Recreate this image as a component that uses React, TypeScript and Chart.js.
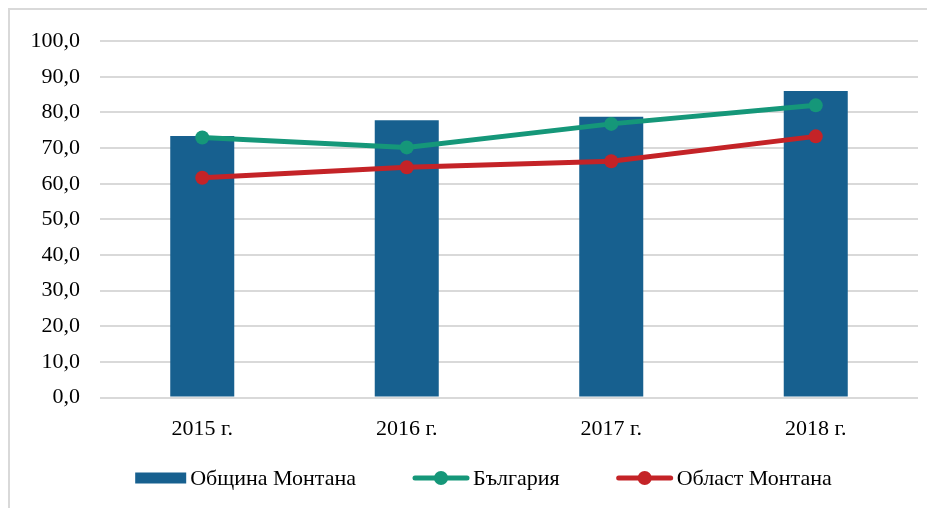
import React, { useEffect, useRef } from "react";
import { Chart, registerables } from "chart.js";

Chart.register(...registerables);

const categories = ["2015 г.", "2016 г.", "2017 г.", "2018 г."];
const obshtinaMontana = [73.4, 77.8, 78.8, 86.0];
const bulgaria = [73.0, 70.2, 76.8, 82.0];
const oblastMontana = [61.7, 64.6, 66.3, 73.3];
const yTicks = [0, 10, 20, 30, 40, 50, 60, 70, 80, 90, 100];

const BAR_COLOR = "#17608f";
const GREEN = "#159779";
const RED = "#c42327";
const GRID = "#d9d9d9";
const FONT = "'Liberation Serif', 'Times New Roman', serif";
const FONT_SIZE = 22;

const legendPlugin = {
  id: "customLegend",
  afterDraw(chart: any) {
    const ctx = chart.ctx as CanvasRenderingContext2D;
    const items = chart.data.datasets.map((ds: any) => ({
      label: ds.label,
      type: ds.type,
      color: ds.type === "bar" ? ds.backgroundColor : ds.borderColor,
    }));
    ctx.save();
    ctx.font = `${FONT_SIZE}px ${FONT}`;
    ctx.textBaseline = "middle";
    const symW = (t: string) => (t === "bar" ? 51 : 56);
    const symGap = 4;
    const itemGap = 57;
    let total = 0;
    items.forEach((it: any, i: number) => {
      total += symW(it.type) + symGap + ctx.measureText(it.label).width;
      if (i < items.length - 1) total += itemGap;
    });
    const cx = chart.width / 2 + 12;
    let x = cx - total / 2;
    const y = 470;
    items.forEach((it: any) => {
      const w = symW(it.type);
      if (it.type === "bar") {
        ctx.fillStyle = it.color;
        ctx.fillRect(x, y - 5.5, w, 11);
      } else {
        ctx.strokeStyle = it.color;
        ctx.lineWidth = 5;
        ctx.lineCap = "round";
        ctx.beginPath();
        ctx.moveTo(x + 2, y);
        ctx.lineTo(x + w - 2, y);
        ctx.stroke();
        ctx.fillStyle = it.color;
        ctx.beginPath();
        ctx.arc(x + w / 2, y, 7, 0, Math.PI * 2);
        ctx.fill();
      }
      x += w + symGap;
      ctx.fillStyle = "#000";
      ctx.textAlign = "left";
      ctx.fillText(it.label, x, y + 1);
      x += ctx.measureText(it.label).width + itemGap;
    });
    ctx.restore();
  },
};

export default function App() {
  const canvasRef = useRef<HTMLCanvasElement | null>(null);

  useEffect(() => {
    if (!canvasRef.current) return;
    const chart = new Chart(canvasRef.current, {
      type: "bar",
      data: {
        labels: categories,
        datasets: [
          {
            type: "bar",
            label: "Община Монтана",
            data: obshtinaMontana,
            backgroundColor: BAR_COLOR,
            barPercentage: 0.313,
            categoryPercentage: 1,
            order: 2,
          } as any,
          {
            type: "line",
            label: "България",
            data: bulgaria,
            borderColor: GREEN,
            backgroundColor: GREEN,
            borderWidth: 5,
            pointRadius: 7,
            pointHoverRadius: 7,
            pointBorderWidth: 0,
            pointBackgroundColor: GREEN,
            tension: 0,
            order: 1,
          },
          {
            type: "line",
            label: "Област Монтана",
            data: oblastMontana,
            borderColor: RED,
            backgroundColor: RED,
            borderWidth: 5,
            pointRadius: 7,
            pointHoverRadius: 7,
            pointBorderWidth: 0,
            pointBackgroundColor: RED,
            tension: 0,
            order: 0,
          },
        ],
      },
      options: {
        responsive: false,
        animation: false,
        events: [],
        layout: { padding: { left: 20, right: 17, top: 18, bottom: 48 } },
        plugins: {
          legend: { display: false },
          tooltip: { enabled: false },
        },
        scales: {
          x: {
            offset: true,
            grid: { display: false, drawTicks: false },
            border: { display: false },
            ticks: {
              color: "#000",
              font: { family: FONT, size: FONT_SIZE },
              padding: 18,
            },
          },
          y: {
            min: yTicks[0],
            max: yTicks[yTicks.length - 1],
            afterBuildTicks: (axis: any) => {
              axis.ticks = yTicks.map((v) => ({ value: v }));
            },
            afterFit: (axis: any) => {
              axis.width = 72;
            },
            grid: { color: GRID, lineWidth: 2, drawTicks: false },
            border: { display: false },
            ticks: {
              color: "#000",
              font: { family: FONT, size: FONT_SIZE },
              padding: 20,
              callback: (v: any) => Number(v).toFixed(1).replace(".", ","),
            },
          },
        },
      },
      plugins: [legendPlugin],
    });
    return () => chart.destroy();
  }, []);

  return (
    <div style={{ position: "relative", width: 927, height: 500, overflow: "hidden" }}>
      <div
        style={{
          position: "absolute",
          left: 0,
          top: 0,
          width: 960,
          height: 540,
          borderTop: `2px solid ${GRID}`,
          borderLeft: `2px solid ${GRID}`,
          boxSizing: "border-box",
        }}
      />
      <canvas
        ref={canvasRef}
        width={927}
        height={500}
        style={{ position: "absolute", left: 0, top: 0, width: 927, height: 500 }}
      />
    </div>
  );
}
